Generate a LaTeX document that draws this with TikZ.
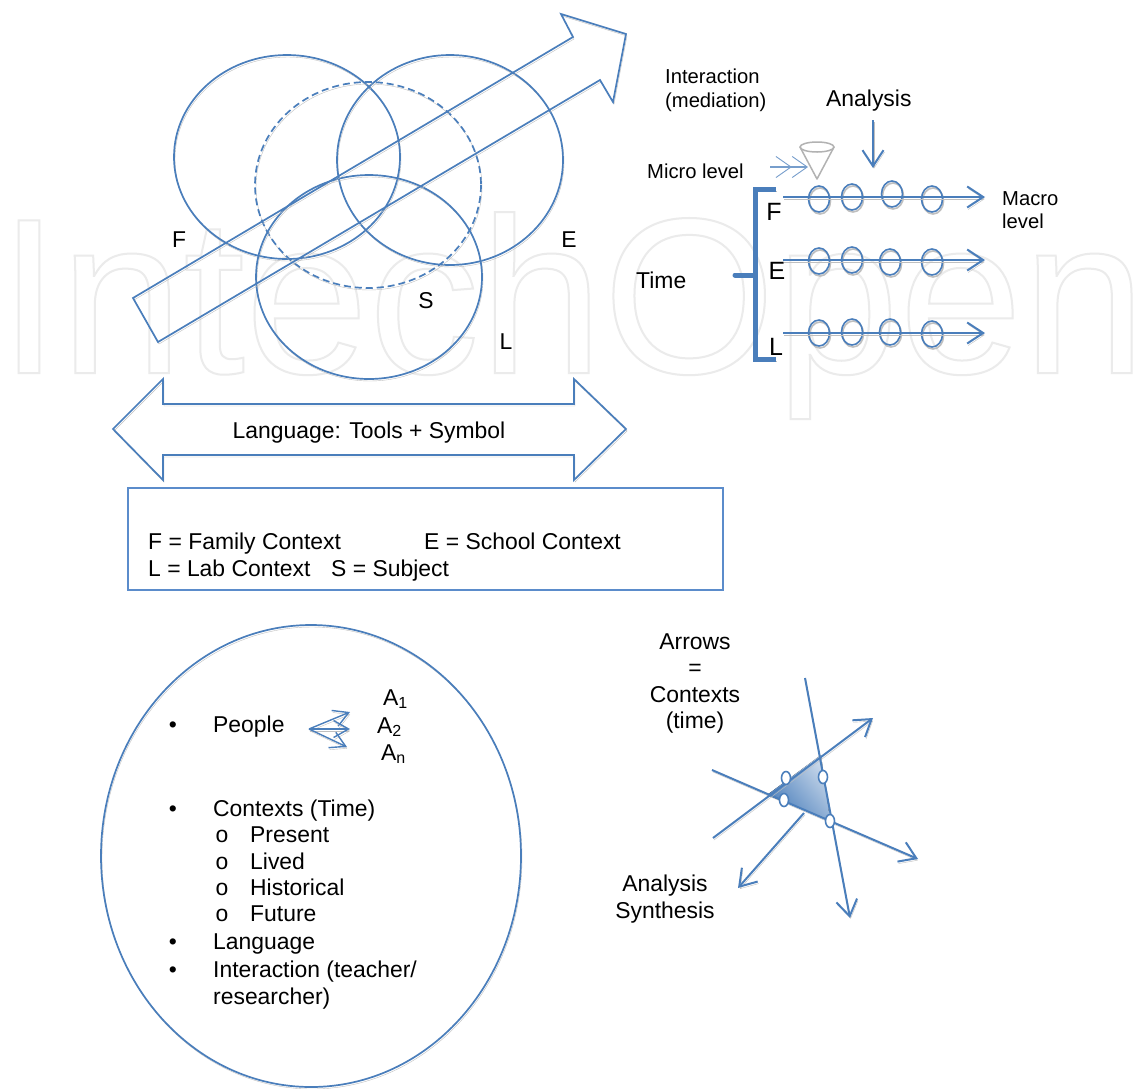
\documentclass[tikz,border=0pt]{standalone}
\usepackage{fontspec}
\setmainfont{Liberation Sans}
\usetikzlibrary{arrows.meta,shapes.geometric}
\definecolor{lineblue}{HTML}{4A7EBB}
\definecolor{fillblue}{HTML}{4A7EBB}
\definecolor{boxblue}{HTML}{5B8CCB}
\begin{document}
\begin{tikzpicture}[x=1pt,y=-1pt]
\tikzset{lineshadow/.style = {preaction={draw=black!25,transform canvas={shift={(1pt,-2pt)}}}}}
\tikzset{outline/.style = {draw=lineblue,line width=1.7pt,lineshadow}}
\tikzset{bead/.style = {shape=ellipse,draw=lineblue,line width=1.6pt,lineshadow,minimum width=21pt,minimum height=26pt,inner sep=0pt}}
\tikzset{hole/.style = {shape=ellipse,draw=lineblue,fill=white,line width=1.6pt,minimum width=9pt,minimum height=13pt,inner sep=0pt}}
\tikzset{edge/.style = {->,>={Straight Barb[length=16pt,width=21pt,line width=2pt]},draw=lineblue,line width=2pt,lineshadow}}
\tikzset{thinedge/.style = {->,>={Straight Barb[length=15pt,width=17pt,line width=1.4pt]},draw=lineblue,line width=1.4pt,lineshadow}}
\tikzset{microedge/.style = {->,>={Straight Barb[length=15pt,width=21pt,line width=.9pt] Straight Barb[length=15pt,width=21pt,line width=.9pt]},draw=lineblue!75,line width=1.2pt}}
\tikzset{label/.style = {font=\fontsize{22.9}{26.3}\selectfont,align=left,inner sep=0pt}}
\tikzset{item/.style = {label,anchor=base west}}
\tikzset{dot/.style = {label,anchor=base}}
\tikzset{small/.style = {font=\fontsize{20.2}{23.6}\selectfont,align=left,inner sep=0pt,anchor=base west}}
\tikzset{letter/.style = {font=\fontsize{25}{25}\selectfont,inner sep=0pt,anchor=base}}
\useasboundingbox (0,0) rectangle (1140,1088);
\fill[white] (0,0) rectangle (1140,1088);
% watermark
\node[anchor=base west,inner sep=0pt,text=black!8] (mark) at (-2,373)
  {\fontsize{222}{222}\selectfont\special{pdf:code 1 Tr 2 w}IntechOpen\special{pdf:code 0 Tr}};
% circles
\draw[outline] (287,157) circle [x radius=113,y radius=102];
\draw[outline] (450,160) circle [x radius=113,y radius=105];
\draw[outline,dash pattern=on 7pt off 4pt] (368,185) circle [x radius=113,y radius=103];
\draw[outline] (369,277) circle [x radius=113,y radius=102];
% big arrow
\draw[outline,line join=miter] (133,298) -- (573,37) -- (561,14) -- (626,34) -- (613,102) -- (600,80) -- (158,342) -- cycle;
% language arrow
\draw[outline,line join=miter] (113,429) -- (163,379) -- (163,404) -- (574,404) -- (574,379) -- (626,429) -- (574,480) -- (574,455) -- (163,455) -- (163,480) -- cycle;
\node[label] (lang) at (369,433) {Language: Tools + Symbol};
% legend box
\draw[draw=boxblue,line width=1.5pt] (128,488) rectangle (723,590);
\node[item] (fam) at (148,549) {F = Family Context};
\node[item] (sch) at (424,549) {E = School Context};
\node[item] (lab) at (148,576) {L = Lab Context};
\node[item] (sub) at (331,576) {S = Subject};
% letters
\node[label] (lf) at (179,240) {F};
\node[label] (le) at (569,240) {E};
\node[label] (ls) at (426,301) {S};
\node[label] (ll) at (506,342) {L};
% time panel
\node[small] (inter) at (665,83) {Interaction};
\node[small] (media) at (665,107) {(mediation)};
\node[item] (ana) at (826,106) {Analysis};
\node[small] (micro) at (647,178) {Micro level};
\node[item] (time) at (636,288) {Time};
\node[small] (macro) at (1002,205) {Macro};
\node[small] (level) at (1002,228) {level};
\node[letter] (tf) at (774,220) {F};
\node[letter] (te) at (777,279) {E};
\node[letter] (tl) at (776,355) {L};
\draw[draw=lineblue,line width=5pt,line join=miter,lineshadow] (776,189) -- (755,189) -- (755,359) -- (776,359);
\coordinate (tb) at (755,275);
\coordinate (ta) at (735,275);
\draw[draw=lineblue,line width=5pt,line cap=round] (ta) -- (tb);
% levels
\coordinate (fa) at (783,197); \coordinate (fb) at (985,197);
\coordinate (ea) at (783,260); \coordinate (eb) at (985,260);
\coordinate (la) at (783,333); \coordinate (lb) at (985,333);
\foreach \x/\y in {819/199,852/197,892/194,932/199,819/261,852/260,890/262,932/262,819/333,852/332,890/332,932/334}
  \node[bead] at (\x,\y) {};
\draw[edge] (fa) to (fb);
\draw[edge] (ea) to (eb);
\draw[edge] (la) to (lb);
% cone
\coordinate (ca) at (800,147);
\coordinate (cb) at (834,147);
\coordinate (cc) at (817,179);
\draw[draw=black!30,line width=1.5pt,line join=round] (ca) -- (cc) -- (cb);
\draw[draw=black!30,line width=1.5pt] (817,147) circle [x radius=17,y radius=5];
\coordinate (ma) at (770,167); \coordinate (mb) at (808,167);
\draw[microedge] (ma) to (mb);
\coordinate (na) at (873,120); \coordinate (nb) at (873,168);
\draw[edge] (na) to (nb);
% big ellipse
\draw[outline] (311,856) circle [x radius=210,y radius=231];
\node[dot] (bul) at (173,732) {•};
\node[item] (peo) at (213,732) {People};
\node[item] (aa) at (383,705) {A\textsubscript{1}};
\node[item] (ab) at (377,733) {A\textsubscript{2}};
\node[item] (ac) at (381,760) {A\textsubscript{n}};
\coordinate (pa) at (309,729);
\coordinate (pb) at (350,712); \coordinate (pc) at (350,729); \coordinate (pd) at (347,747);
\draw[thinedge] (pa) to (pb);
\draw[thinedge] (pa) to (pc);
\draw[thinedge] (pa) to (pd);
\node[dot] (bu2) at (173,816) {•};
\node[item] (con) at (213,816) {Contexts (Time)};
\foreach \y/\t in {842/Present,869/Lived,895/Historical,921/Future} {
  \node[dot] at (222,\y) {o};
  \node[item] at (250,\y) {\t};
}
\node[dot] (bu3) at (173,949) {•};
\node[item] (lan) at (213,949) {Language};
\node[dot] (bu4) at (173,977) {•};
\node[item] (int) at (213,977) {Interaction (teacher/};
\node[item] (res) at (213,1004) {researcher)};
% contexts
\node[label,align=center] (arr) at (695,683.5) {Arrows\\=\\Contexts\\(time)};
\node[label,align=center] (syn) at (665,899) {Analysis\\Synthesis};
\fill[top color=fillblue!30,middle color=fillblue!90,bottom color=fillblue,shading angle=-50] (767,795) -- (821,755) -- (830,820) -- cycle;
\coordinate (wa) at (712,770); \coordinate (wb) at (918,859);
\coordinate (xa) at (713,838); \coordinate (xb) at (873,718);
\coordinate (ya) at (805,678); \coordinate (yb) at (850,918);
\coordinate (za) at (804,813); \coordinate (zb) at (738,888);
\draw[edge] (wa) to (wb);
\draw[edge] (xa) to (xb);
\draw[edge] (ya) to (yb);
\draw[edge] (za) to (zb);
\node[hole] at (786,778) {};
\node[hole] at (823,777) {};
\node[hole] at (784,800) {};
\node[hole] at (830,821) {};
\end{tikzpicture}
\end{document}
